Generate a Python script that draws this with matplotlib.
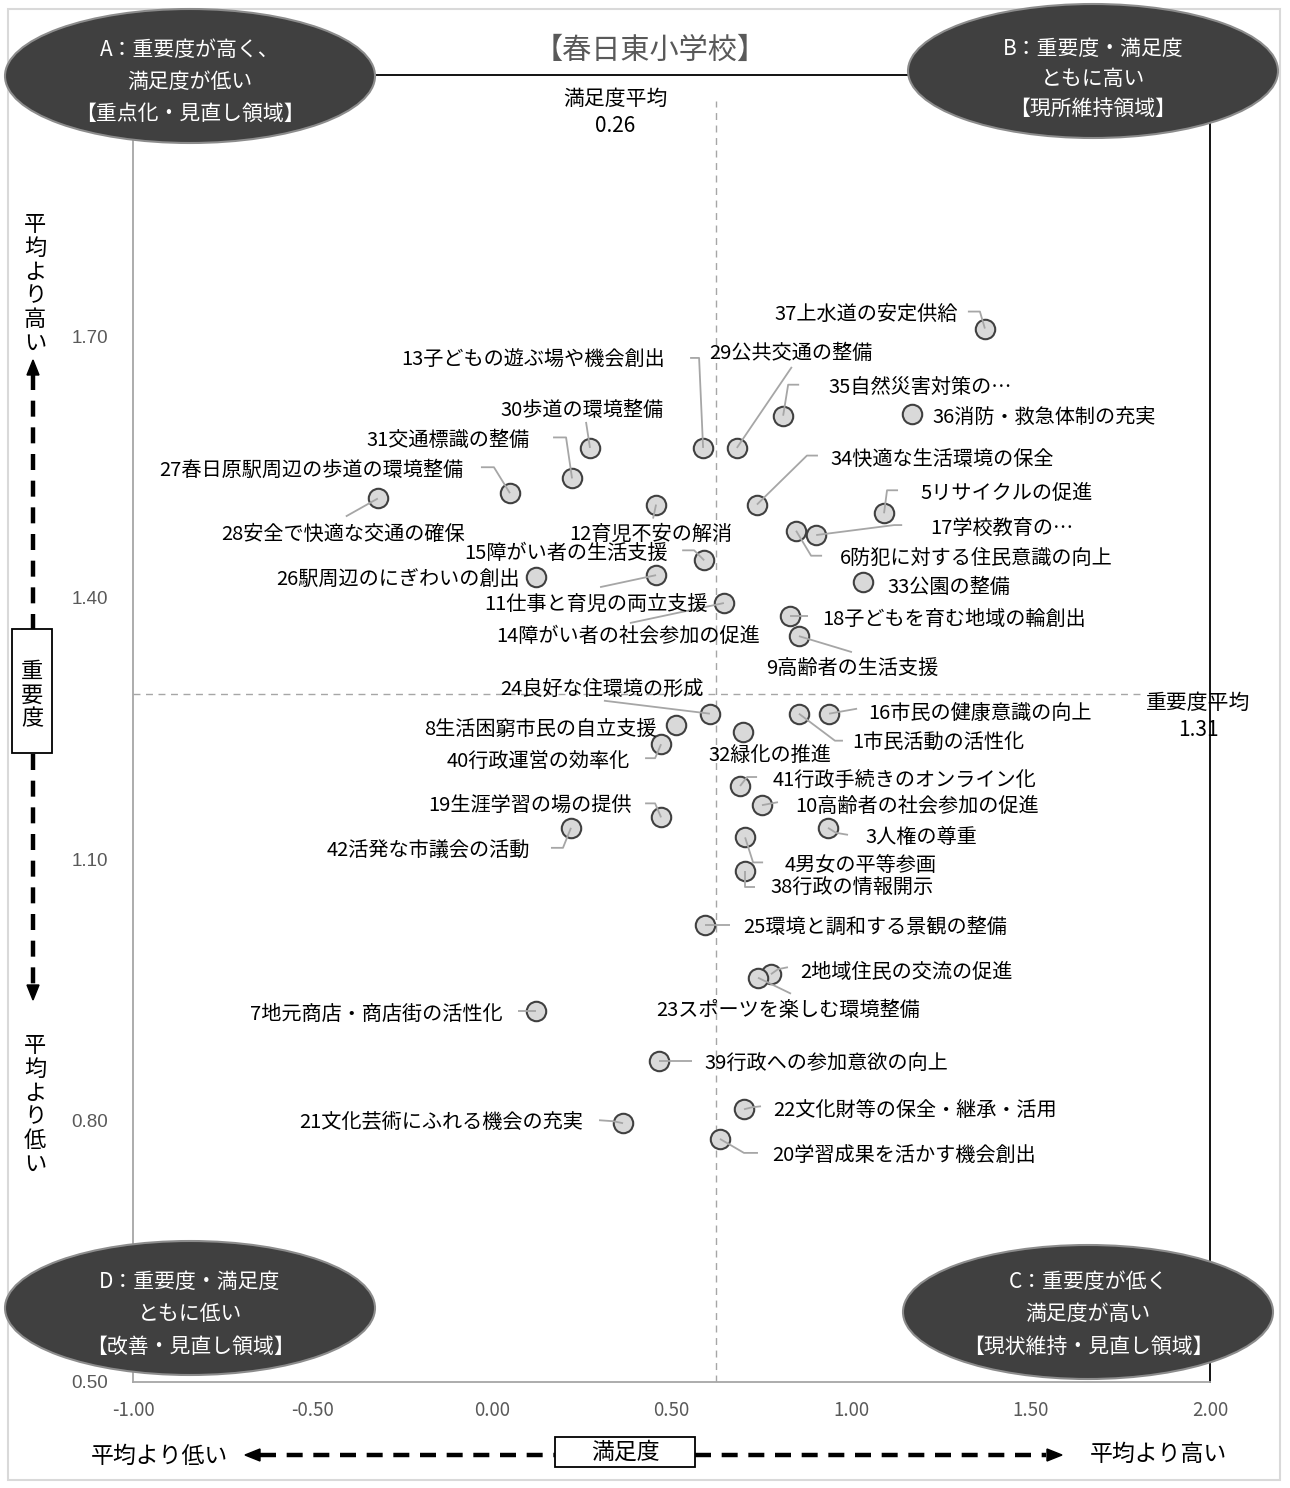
import matplotlib
matplotlib.use("Agg")
import matplotlib.pyplot as plt
from matplotlib.patches import Ellipse, Rectangle, Polygon
from matplotlib.lines import Line2D

plt.rcParams['font.family'] = ['Noto Sans CJK JP', 'DejaVu Sans']

# %% データ（満足度・重要度）
item_no = list(range(1, 43))
item_name = [
    "市民活動の活性化", "地域住民の交流の促進", "人権の尊重", "男女の平等参画",
    "リサイクルの促進", "防犯に対する住民意識の向上", "地元商店・商店街の活性化",
    "生活困窮市民の自立支援", "高齢者の生活支援", "高齢者の社会参加の促進",
    "仕事と育児の両立支援", "育児不安の解消", "子どもの遊ぶ場や機会創出",
    "障がい者の社会参加の促進", "障がい者の生活支援", "市民の健康意識の向上",
    "学校教育の…", "子どもを育む地域の輪創出", "生涯学習の場の提供",
    "学習成果を活かす機会創出", "文化芸術にふれる機会の充実",
    "文化財等の保全・継承・活用", "スポーツを楽しむ環境整備", "良好な住環境の形成",
    "環境と調和する景観の整備", "駅周辺のにぎわいの創出",
    "春日原駅周辺の歩道の環境整備", "安全で快適な交通の確保", "公共交通の整備",
    "歩道の環境整備", "交通標識の整備", "緑化の推進", "公園の整備",
    "快適な生活環境の保全", "自然災害対策の…", "消防・救急体制の充実",
    "上水道の安定供給", "行政の情報開示", "行政への参加意欲の向上",
    "行政運営の効率化", "行政手続きのオンライン化", "活発な市議会の活動",
]
satisfaction = [
    0.855, 0.777, 0.936, 0.705, 1.092, 0.847, 0.123, 0.513, 0.855, 0.752,
    0.457, 0.457, 0.588, 0.646, 0.591, 0.939, 0.903, 0.830, 0.471, 0.635,
    0.365, 0.702, 0.741, 0.607, 0.593, 0.123, 0.050, -0.318, 0.682, 0.273,
    0.223, 0.699, 1.033, 0.738, 0.811, 1.170, 1.373, 0.705, 0.465, 0.471,
    0.691, 0.220,
]
importance = [
    1.267, 0.968, 1.136, 1.125, 1.497, 1.477, 0.926, 1.254, 1.356, 1.162,
    1.426, 1.507, 1.572, 1.394, 1.443, 1.267, 1.472, 1.379, 1.148, 0.779,
    0.797, 0.813, 0.964, 1.267, 1.025, 1.424, 1.520, 1.514, 1.572, 1.572,
    1.537, 1.246, 1.418, 1.507, 1.609, 1.611, 1.709, 1.086, 0.868, 1.232,
    1.184, 1.136,
]

sat_avg = 0.625        # 満足度平均の線
imp_avg = 1.29         # 重要度平均の線
sat_avg_label = "0.26"
imp_avg_label = "1.31"

x_ticks = [-1.0, -0.5, 0.0, 0.5, 1.0, 1.5, 2.0]
y_ticks = [0.5, 0.8, 1.1, 1.4, 1.7]

# %% ラベルの配置 (dx, dy はピクセル, 下向きが正)
label_layout = {
    1: (53, 27, 'left', [(44, 27), (36, 27)]),
    2: (29, -5, 'left', [(17, -7), (7, -5)]),
    3: (37, 7, 'left', [(20, 7), (8, 5)]),
    4: (40, 25, 'left', [(18, 25), (8, 25)]),
    5: (36, -23, 'left', [(14, -23), (3, -23)]),
    6: (44, 25, 'left', [(26, 25), (15, 25)]),
    7: (-34, 1, 'right', [(-18, 0)]),
    8: (-20, 1, 'right', None),
    9: (53, 29, 'center', [(53, 16)]),
    10: (33, -2, 'left', [(16, -3)]),
    11: (-60, 26, 'center', [(-56, 12)]),
    12: (-5, 27, 'center', [(-3, 14)]),
    13: (-38, -91, 'right', [(-13, -90), (-4, -90)]),
    14: (-96, 30, 'center', [(-94, 20)]),
    15: (-36, -10, 'right', [(-22, -10), (-10, -10)]),
    16: (39, -3, 'left', [(28, -5)]),
    17: (114, -10, 'left', [(86, -10), (78, -10)]),
    18: (32, 0, 'left', [(18, 0)]),
    19: (-29, -14, 'right', [(-16, -14), (-6, -14)]),
    20: (52, 14, 'left', [(38, 14), (24, 14)]),
    21: (-40, -4, 'right', [(-24, -3), (-10, -2)]),
    22: (29, -2, 'left', [(17, -3), (8, -2)]),
    23: (30, 30, 'center', [(33, 16)]),
    24: (-108, -27, 'center', [(-106, -13)]),
    25: (38, 0, 'left', [(25, 0)]),
    26: (-16, 0, 'right', None),
    27: (-47, -26, 'right', [(-29, -26), (-16, -26)]),
    28: (-35, 33, 'center', [(-32, 18)]),
    29: (54, -97, 'center', [(55, -81)]),
    30: (-8, -40, 'center', [(-4, -26)]),
    31: (-42, -41, 'right', [(-19, -41), (-6, -41)]),
    32: (27, 20, 'center', None),
    33: (25, 2, 'left', None),
    34: (73, -48, 'left', [(61, -49), (50, -49)]),
    35: (45, -31, 'left', [(16, -31), (5, -31)]),
    36: (20, 1, 'left', None),
    37: (-27, -17, 'right', [(-17, -17), (-5, -17)]),
    38: (25, 14, 'left', [(10, 16), (0, 16)]),
    39: (46, 0, 'left', [(33, 0)]),
    40: (-31, 14, 'right', [(-16, 14), (-6, 14)]),
    41: (33, -9, 'left', [(17, -9), (7, -9)]),
    42: (-41, 20, 'right', [(-20, 20), (-8, 20)]),
}
text_shift = 3  # Noto の中心合わせの補正（ピクセル）

# %% 図
W, H = 1290, 1488
fig = plt.figure(figsize=(W / 100, H / 100), dpi=100, facecolor='white')

def fx(x):
    return x / W

def fy(y):
    return 1 - y / H

L, R, T, B = 133, 1210, 75, 1382
ax = fig.add_axes([fx(L), fy(B), (R - L) / W, (B - T) / H])
ax.set_xlim(-1.0, 2.0)
ax.set_ylim(0.5, 2.0)
sx = (R - L) / 3.0
sy = (B - T) / 1.5

for side, col in [('left', '#a6a6a6'), ('bottom', '#a6a6a6'), ('top', 'black'), ('right', 'black')]:
    ax.spines[side].set_color(col)
    ax.spines[side].set_linewidth(1.3)

ax.set_xticks(x_ticks, labels=[f"{v:.2f}" for v in x_ticks])
ax.set_yticks(y_ticks, labels=[f"{v:.2f}" for v in y_ticks])
ax.tick_params(axis='both', length=0, labelcolor='#595959')
ax.tick_params(axis='x', labelsize=13.5, pad=13)
ax.tick_params(axis='y', labelsize=13.5, pad=18)
for t in ax.get_yticklabels():
    t.set_fontfamily('Liberation Sans')

# 平均線
ax.vlines(sat_avg, 0.5, 1.97, colors='#a6a6a6', linewidth=1, linestyles=(0, (5, 4)), zorder=1)
ax.hlines(imp_avg, -1.0, 1.805, colors='#a6a6a6', linewidth=1, linestyles=(0, (5, 4)), zorder=1)

# 点
ax.plot(satisfaction, importance, 'o', ms=14, mfc='#d9d9d9', mec='#404040', mew=1.5,
        linestyle='none', zorder=3)

for no, name, x, y in zip(item_no, item_name, satisfaction, importance):
    dx, dy, ha, leader = label_layout[no]
    ax.text(x + dx / sx, y - (dy + text_shift) / sy, f"{no}{name}", ha=ha, va='center',
            fontsize=14.5, color='black', zorder=5)
    if leader:
        xs = [x + px / sx for px, py in leader] + [x]
        ys = [y - py / sy for px, py in leader] + [y]
        ax.plot(xs, ys, color='#a6a6a6', lw=1.3, zorder=4, solid_capstyle='butt')

# 平均ラベル
fig.text(fx(615), fy(99), "満足度平均", ha='center', va='center', fontsize=15)
fig.text(fx(615), fy(126), sat_avg_label, ha='center', va='center', fontsize=15)
fig.text(fx(1198), fy(703), "重要度平均", ha='center', va='center', fontsize=15)
fig.text(fx(1198), fy(730), imp_avg_label, ha='center', va='center', fontsize=15)

# タイトル
fig.text(fx(650), fy(51), "【春日東小学校】", ha='center', va='center', fontsize=21, color='#595959')

# 四象限の楕円
quadrants = [
    ((190, 76), ["A：重要度が高く、", "満足度が低い", "【重点化・見直し領域】"], [48, 80, 112]),
    ((1093, 71), ["B：重要度・満足度", "ともに高い", "【現所維持領域】"], [47, 77, 107]),
    ((190, 1308), ["D：重要度・満足度", "ともに低い", "【改善・見直し領域】"], [1280, 1312, 1345]),
    ((1088, 1312), ["C：重要度が低く", "満足度が高い", "【現状維持・見直し領域】"], [1280, 1312, 1345]),
]
for (cx, cy), lines, ys in quadrants:
    e = Ellipse((fx(cx), fy(cy)), 370 / W, 134 / H, transform=fig.transFigure,
                facecolor='#404040', edgecolor='#8c8c8c', linewidth=1.5, zorder=2)
    fig.add_artist(e)
    for txt, yy in zip(lines, ys):
        fig.text(fx(cx), fy(yy + 2), txt, ha='center', va='center', fontsize=15,
                 color='white', zorder=3)

# 軸の説明（縦）
def vtext(chars, xc, y_top, pitch, size):
    for i, ch in enumerate(chars):
        fig.text(fx(xc), fy(y_top + pitch * (i + 0.5)), ch, ha='center', va='center',
                 fontsize=size, zorder=3)

def dline(p0, p1):
    fig.add_artist(Line2D([fx(p0[0]), fx(p1[0])], [fy(p0[1]), fy(p1[1])],
                          transform=fig.transFigure, color='black', lw=3.2,
                          dashes=[3.6, 2.4], zorder=2))

def tri(pts):
    fig.add_artist(Polygon([(fx(a), fy(b)) for a, b in pts], closed=True,
                           transform=fig.transFigure, facecolor='black',
                           edgecolor='black', zorder=2))

vtext("平均より高い", 35, 213, 23.7, 16)
vtext("平均より低い", 35, 1034, 23.7, 16)
dline((33, 374), (33, 630))
dline((33, 754), (33, 986))
tri([(33, 360), (27, 375), (39, 375)])
tri([(33, 1000), (27, 985), (39, 985)])
fig.add_artist(Rectangle((fx(12), fy(753)), 40 / W, 124 / H, transform=fig.transFigure,
                         facecolor='white', edgecolor='black', lw=1.3, zorder=3))
vtext("重要度", 32, 659, 24, 16)

# 軸の説明（横）
fig.text(fx(159), fy(1456), "平均より低い", ha='center', va='center', fontsize=16.5)
fig.text(fx(1158), fy(1454), "平均より高い", ha='center', va='center', fontsize=16.5)
dline((260, 1455), (555, 1455))
dline((695, 1455), (1046, 1455))
tri([(245, 1455), (260, 1449), (260, 1461)])
tri([(1062, 1455), (1047, 1449), (1047, 1461)])
fig.add_artist(Rectangle((fx(555), fy(1467)), 140 / W, 30 / H, transform=fig.transFigure,
                         facecolor='white', edgecolor='black', lw=1.3, zorder=3))
fig.text(fx(625), fy(1452), "満足度", ha='center', va='center', fontsize=16.5, zorder=4)

# 外枠
fig.add_artist(Rectangle((fx(8), fy(1480)), 1272 / W, 1471 / H, transform=fig.transFigure,
                         facecolor='none', edgecolor='#d9d9d9', lw=1.5, zorder=0))

fig.savefig("out.png", dpi=100, facecolor='white')
